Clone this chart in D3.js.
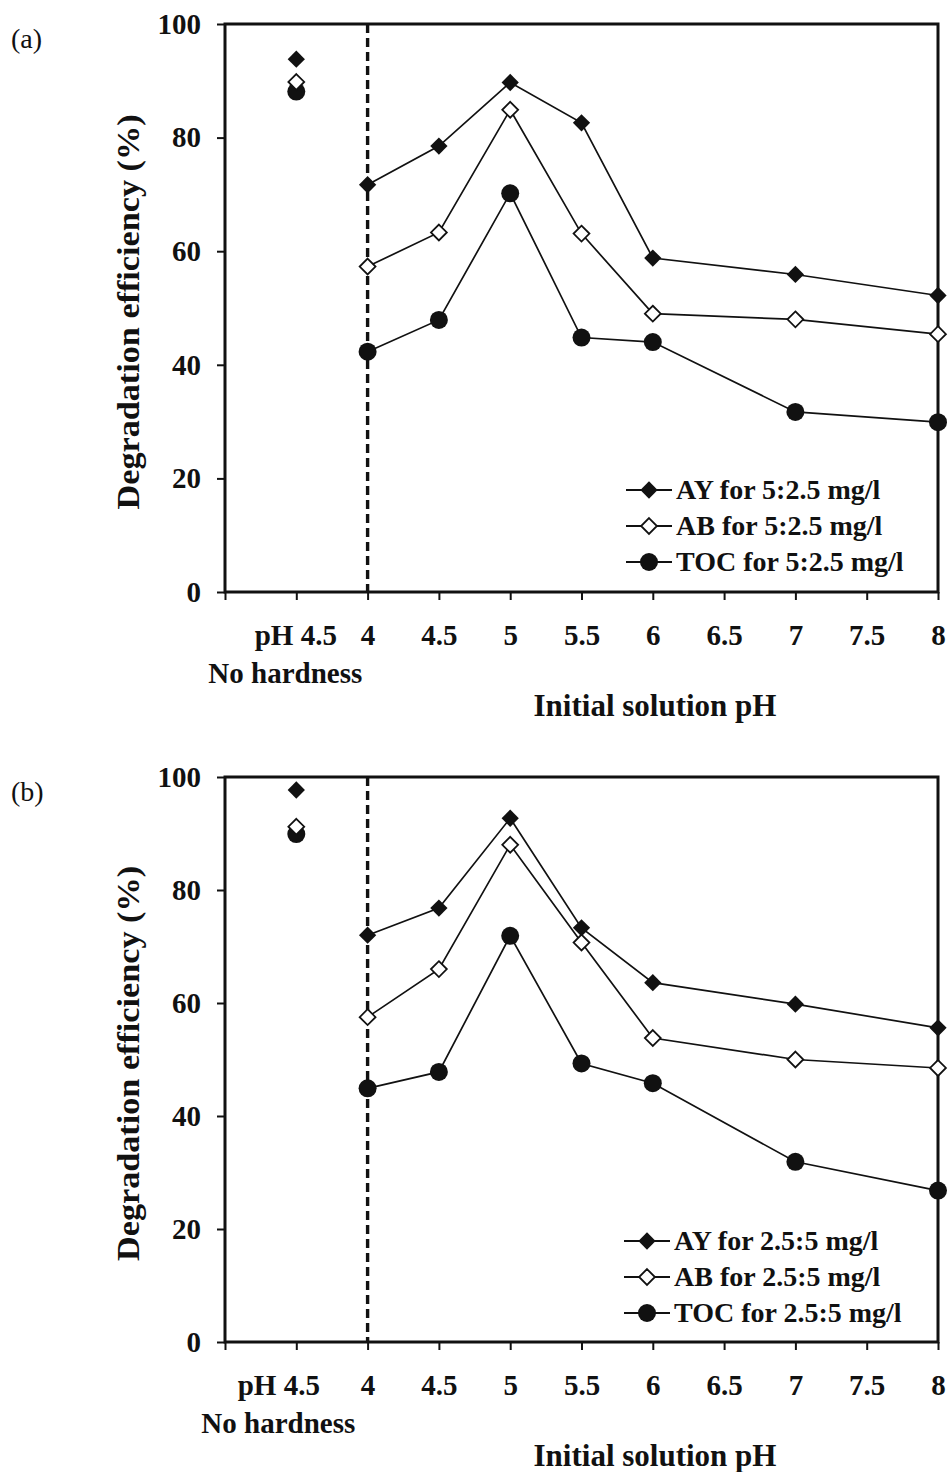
<!DOCTYPE html>
<html>
<head>
<meta charset="utf-8">
<script src="https://cdn.jsdelivr.net/npm/d3@7"></script>
<style>
  body { margin: 0; background: #fff; }
  svg { display: block; }
  text { font-family: "Liberation Serif", "Times New Roman", serif; fill: #111; }
</style>
</head>
<body>
<svg id="chart" width="950" height="1472"></svg>
<script>
// Axis layout along pH; 3.5 is the "no hardness" reference slot at pH 4.5
const xTicks = [3, 3.5, 4, 4.5, 5, 5.5, 6, 6.5, 7, 7.5, 8];
const xTickLabels = ["", "pH 4.5", "4", "4.5", "5", "5.5", "6", "6.5", "7", "7.5", "8"];
const yTicks = [0, 20, 40, 60, 80, 100];
const pHValues = [4, 4.5, 5, 5.5, 6, 7, 8];
const noHardnessPos = 3.5;

// Panel (a): dye ratio 5:2.5 mg/l
const ayA = [71.7, 78.5, 89.7, 82.6, 58.8, 55.9, 52.2];
const abA = [57.3, 63.3, 84.9, 63.1, 49.0, 48.0, 45.4];
const tocA = [42.3, 47.9, 70.2, 44.8, 44.0, 31.7, 29.9];
const noHardA = [93.8, 89.8, 88.1]; // AY, AB, TOC

// Panel (b): dye ratio 2.5:5 mg/l
const ayB = [72.0, 76.8, 92.7, 73.3, 63.6, 59.8, 55.6];
const abB = [57.5, 66.0, 88.0, 70.7, 53.8, 50.0, 48.5];
const tocB = [44.9, 47.8, 71.9, 49.3, 45.8, 31.9, 26.8];
const noHardB = [97.7, 91.2, 89.9];

const seriesNames = ["AY", "AB", "TOC"];

const svg = d3.select("#chart");
svg.append("rect").attr("width", 950).attr("height", 1472).attr("fill", "#fff");

const left = 225, right = 938;
const x = d3.scaleLinear().domain([3, 8]).range([left, right]);

function marker(g, type, cx, cy) {
  if (type === "AY") {
    g.append("path").attr("d", d3.symbol(d3.symbolDiamond2, 190)())
      .attr("transform", `translate(${cx},${cy})`).attr("fill", "#111");
  } else if (type === "AB") {
    g.append("path").attr("d", d3.symbol(d3.symbolDiamond2, 160)())
      .attr("transform", `translate(${cx},${cy})`)
      .attr("fill", "#fff").attr("stroke", "#111").attr("stroke-width", 1.8);
  } else {
    g.append("circle").attr("cx", cx).attr("cy", cy).attr("r", 9).attr("fill", "#111");
  }
}

function panel(cfg) {
  const { top, bottom, tag, ratio, series, noHard, legendTop, legendX, phDx, nhDx } = cfg;
  const y = d3.scaleLinear().domain([0, 100]).range([bottom, top]);
  const g = svg.append("g");

  // panel tag
  g.append("text").attr("x", 11).attr("y", top + 24)
    .attr("font-size", 28).text(tag);

  // y axis
  const yAxis = g.append("g").attr("transform", `translate(${left},0)`)
    .call(d3.axisLeft(y).tickValues(yTicks).tickSize(8).tickPadding(16).tickFormat(d3.format("d")));
  yAxis.select(".domain").remove();
  yAxis.selectAll("line").attr("stroke", "#111").attr("stroke-width", 2);
  yAxis.selectAll("text").attr("font-size", 29).attr("font-weight", "bold")
    .attr("font-family", "Liberation Serif").attr("fill", "#111");

  // x axis
  const xAxis = g.append("g").attr("transform", `translate(0,${bottom})`)
    .call(d3.axisBottom(x).tickValues(xTicks).tickSize(8).tickPadding(24)
      .tickFormat((d, i) => xTickLabels[i]));
  xAxis.select(".domain").remove();
  xAxis.selectAll("line").attr("stroke", "#111").attr("stroke-width", 2);
  xAxis.selectAll("text").attr("font-size", 29).attr("font-weight", "bold")
    .attr("font-family", "Liberation Serif").attr("fill", "#111")
    .attr("dx", (d) => d === noHardnessPos ? phDx : 0);

  g.append("text").attr("x", x(noHardnessPos) + nhDx).attr("y", bottom + 91)
    .attr("text-anchor", "middle").attr("font-size", 29).attr("font-weight", "bold")
    .text("No hardness");

  g.append("text").attr("x", 655).attr("y", bottom + 124)
    .attr("text-anchor", "middle").attr("font-size", 31).attr("font-weight", "bold")
    .text("Initial solution pH");

  g.append("text")
    .attr("transform", `translate(139,${(top + bottom) / 2 + 4}) rotate(-90)`)
    .attr("text-anchor", "middle").attr("font-size", 31).attr("font-weight", "bold")
    .attr("textLength", 395).attr("lengthAdjust", "spacingAndGlyphs")
    .text("Degradation efficiency (%)");

  // frame
  g.append("rect").attr("x", left).attr("y", top)
    .attr("width", right - left).attr("height", bottom - top)
    .attr("fill", "none").attr("stroke", "#111").attr("stroke-width", 3);

  // dashed separator at pH 4
  g.append("line").attr("x1", x(4)).attr("x2", x(4)).attr("y1", top).attr("y2", bottom)
    .attr("stroke", "#111").attr("stroke-width", 3.4).attr("stroke-dasharray", "9,5");

  const line = d3.line().x((d) => x(d[0])).y((d) => y(d[1]));
  series.forEach((vals) => {
    const pts = pHValues.map((p, i) => [p, vals[i]]);
    g.append("path").attr("d", line(pts)).attr("fill", "none")
      .attr("stroke", "#111").attr("stroke-width", 1.7);
  });
  // no-hardness reference points (TOC first so the diamonds sit on top)
  [2, 1, 0].forEach((si) => marker(g, seriesNames[si], x(noHardnessPos), y(noHard[si])));
  series.forEach((vals, si) => {
    pHValues.forEach((p, i) => marker(g, seriesNames[si], x(p), y(vals[i])));
  });

  // legend
  seriesNames.forEach((name, i) => {
    const ly = legendTop + i * 36;
    g.append("line").attr("x1", legendX).attr("x2", legendX + 46)
      .attr("y1", ly).attr("y2", ly).attr("stroke", "#111").attr("stroke-width", 2);
    marker(g, name, legendX + 23, ly);
    g.append("text").attr("x", legendX + 50).attr("y", ly + 9)
      .attr("font-size", 28).attr("font-weight", "bold")
      .text(`${name} for ${ratio} mg/l`);
  });
}

panel({ top: 24, bottom: 592, tag: "(a)", ratio: "5:2.5",
  series: [ayA, abA, tocA], noHard: noHardA, legendTop: 490, legendX: 626, phDx: -1, nhDx: -11 });
panel({ top: 777, bottom: 1342, tag: "(b)", ratio: "2.5:5",
  series: [ayB, abB, tocB], noHard: noHardB, legendTop: 1241, legendX: 624, phDx: -18, nhDx: -18 });
</script>
</body>
</html>
